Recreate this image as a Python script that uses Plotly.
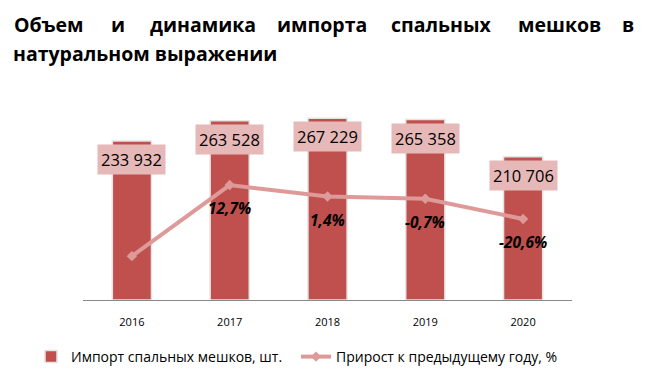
import plotly.graph_objects as go

years = [2016, 2017, 2018, 2019, 2020]
imports = [233932, 263528, 267229, 265358, 210706]
growth = [-57.0, 12.7, 1.4, -0.7, -20.6]
growth_labels = ["", "12,7%", "1,4%", "-0,7%", "-20,6%"]
import_labels = ["233 932", "263 528", "267 229", "265 358", "210 706"]
title_words = ["Объем", "и", "динамика", "импорта", "спальных", "мешков", "в"]
title_line2 = "натуральном выражении"

FONT = "Open Sans"
BAR = "#C0504D"
LINE = "#DE9A98"

# page has 8px body margin; plot area in page px: x 83..572, y 96..300
W, H = 655, 380
L, R, T, B = 75, 91, 88, 88
PW, PH = W - L - R, H - T - B


def px_x(x):  # page x px -> paper
    return (x - 8 - L) / PW


def px_y(y):  # page y px -> paper
    return (H - B - (y - 8)) / PH


fig = go.Figure()
fig.add_trace(go.Bar(
    x=years, y=imports, name="Импорт спальных мешков, шт.",
    marker=dict(color=BAR, line=dict(color="#E4E4E4", width=1.5)),
    width=0.4, yaxis="y",
))
fig.add_trace(go.Scatter(
    x=years, y=growth, name="Прирост к предыдущему году, %",
    mode="lines+markers", yaxis="y2",
    line=dict(color=LINE, width=4),
    marker=dict(symbol="diamond", size=8, color=LINE),
))

annotations = []
for yr, v, lab in zip(years, imports, import_labels):
    annotations.append(dict(
        x=yr, y=v, xref="x", yref="y", text=lab, showarrow=False,
        yanchor="top", yshift=-3, bgcolor="#E6B9B8", borderpad=3,
        font=dict(family=FONT, size=16.5, color="#000000"),
    ))
for yr, v, lab in zip(years, growth, growth_labels):
    if lab:
        annotations.append(dict(
            x=yr, y=v, xref="x", yref="y2", text="<b><i>" + lab + "</i></b>",
            showarrow=False, yanchor="middle", yshift=-23,
            font=dict(family=FONT, size=15.5, color="#000000"),
        ))

word_pos = [(12, "left"), (118, "center"), (203, "center"), (322, "center"),
            (441, "center"), (559, "center"), (636, "right")]
for w, (xp, anc) in zip(title_words, word_pos):
    annotations.append(dict(
        xref="paper", yref="paper", x=px_x(xp), y=px_y(25),
        text="<b>" + w + "</b>", showarrow=False, xanchor=anc, yanchor="middle",
        font=dict(family=FONT, size=19.5, color="#000000"),
    ))
annotations.append(dict(
    xref="paper", yref="paper", x=px_x(11), y=px_y(53),
    text="<b>" + title_line2 + "</b>", showarrow=False, xanchor="left", yanchor="middle",
    font=dict(family=FONT, size=19.5, color="#000000"),
))

fig.update_layout(
    width=W, height=H,
    margin=dict(l=L, r=R, t=T, b=B, autoexpand=False),
    paper_bgcolor="white", plot_bgcolor="white",
    showlegend=True,
    legend=dict(orientation="h", x=px_x(31), y=px_y(357), xanchor="left", yanchor="middle",
                font=dict(family=FONT, size=14, color="#000000"),
                traceorder="normal", entrywidth=220),
    xaxis=dict(range=[2015.5, 2020.5], tickmode="array", tickvals=years,
               ticktext=[str(y) for y in years],
               showline=True, linecolor="#898989", linewidth=1,
               showgrid=False, zeroline=False, ticks="",
               tickfont=dict(family=FONT, size=11, color="#000000"),
               ticklabelstandoff=12),
    yaxis=dict(range=[0, 300000], visible=False, showgrid=False),
    yaxis2=dict(range=[-100, 100], overlaying="y", visible=False, showgrid=False),
    annotations=annotations,
)

fig.write_html("out.html")
